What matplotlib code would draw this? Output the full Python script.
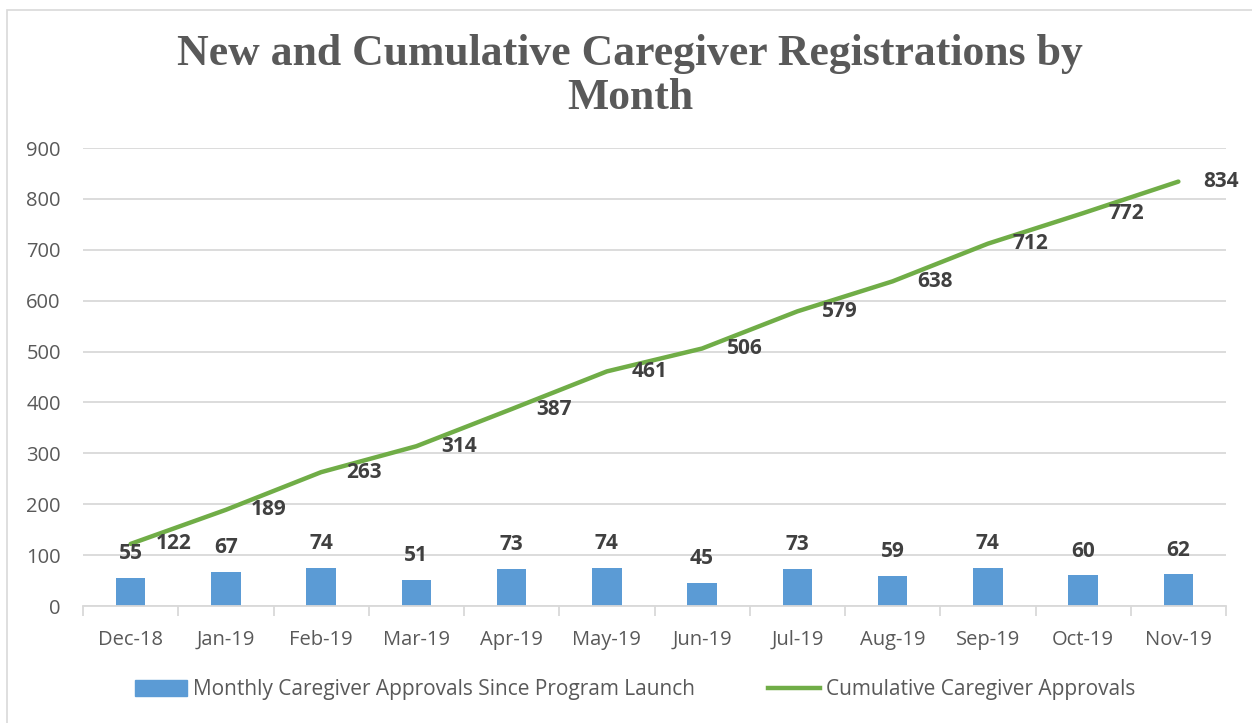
import matplotlib.pyplot as plt
import numpy as np
from matplotlib.patches import Rectangle, Patch
from matplotlib.lines import Line2D

months = ['Dec-18', 'Jan-19', 'Feb-19', 'Mar-19', 'Apr-19', 'May-19',
          'Jun-19', 'Jul-19', 'Aug-19', 'Sep-19', 'Oct-19', 'Nov-19']
monthly = [55, 67, 74, 51, 73, 74, 45, 73, 59, 74, 60, 62]
cumulative = [122, 189, 263, 314, 387, 461, 506, 579, 638, 712, 772, 834]

blue = '#5B9BD5'
green = '#70AD47'
grey = '#595959'
lab = '#404040'
font = 'Open Sans'

fig = plt.figure(figsize=(12.52, 7.23), dpi=100)
fig.patches.append(Rectangle((7/1252, -1), 2, 2 - 10/723, transform=fig.transFigure,
                             fill=False, edgecolor='#D9D9D9', lw=1.2))

ax = fig.add_axes([83/1252, 1 - 606/723, (1226 - 83)/1252, (606 - 148)/723])
x = np.arange(len(months))

ax.bar(x, monthly, width=0.31, color=blue, zorder=2)
ax.plot(x, cumulative, color=green, lw=3.2, solid_capstyle='round', zorder=3)

for xi, v in zip(x, monthly):
    ax.annotate(str(v), (xi, v), xytext=(0, 10), textcoords='offset points',
                ha='center', va='bottom', fontsize=15, fontweight='bold',
                color=lab, family=font)
for xi, v in zip(x, cumulative):
    ax.annotate(str(v), (xi, v), xytext=(18, 0), textcoords='offset points',
                ha='left', va='center', fontsize=15, fontweight='bold',
                color=lab, family=font)

ax.set_xlim(-0.5, len(months) - 0.5)
ax.set_ylim(0, 900)
ax.set_yticks(range(0, 901, 100))
ax.yaxis.grid(True, color='#D9D9D9', lw=1.3)
ax.set_axisbelow(True)
for s in ['left', 'right', 'top']:
    ax.spines[s].set_visible(False)
ax.spines['bottom'].set_color('#D9D9D9')
ax.spines['bottom'].set_linewidth(1.3)
ax.set_xticks(x)
ax.set_xticklabels(months)
ax.set_xticks(np.arange(-0.5, len(months), 1), minor=True)
ax.tick_params(axis='x', which='major', length=0, pad=17, labelsize=14.5, labelcolor=grey)
ax.tick_params(axis='x', which='minor', length=7, color='#D9D9D9', width=1.3)
ax.tick_params(axis='y', length=0, pad=16, labelsize=14.5, labelcolor=grey)
for t in ax.get_xticklabels() + ax.get_yticklabels():
    t.set_family(font)

fig.text(630/1252, 1 - 76/723, 'New and Cumulative Caregiver Registrations by\nMonth',
         ha='center', va='center', fontsize=31.5, fontweight='bold', color=grey,
         family='Liberation Serif', linespacing=1.15)

handles = [Patch(color=blue), Line2D([], [], color=green, lw=3.2)]
fig.legend(handles, ['Monthly Caregiver Approvals Since Program Launch',
                     'Cumulative Caregiver Approvals'],
           loc='center', bbox_to_anchor=(635/1252, 1 - 690/723), ncol=2, frameon=False,
           prop={'family': font, 'size': 15}, labelcolor=grey, handlelength=2.5,
           handleheight=0.8, handletextpad=0.3, columnspacing=3.5)

plt.savefig('out.png', dpi=100)
